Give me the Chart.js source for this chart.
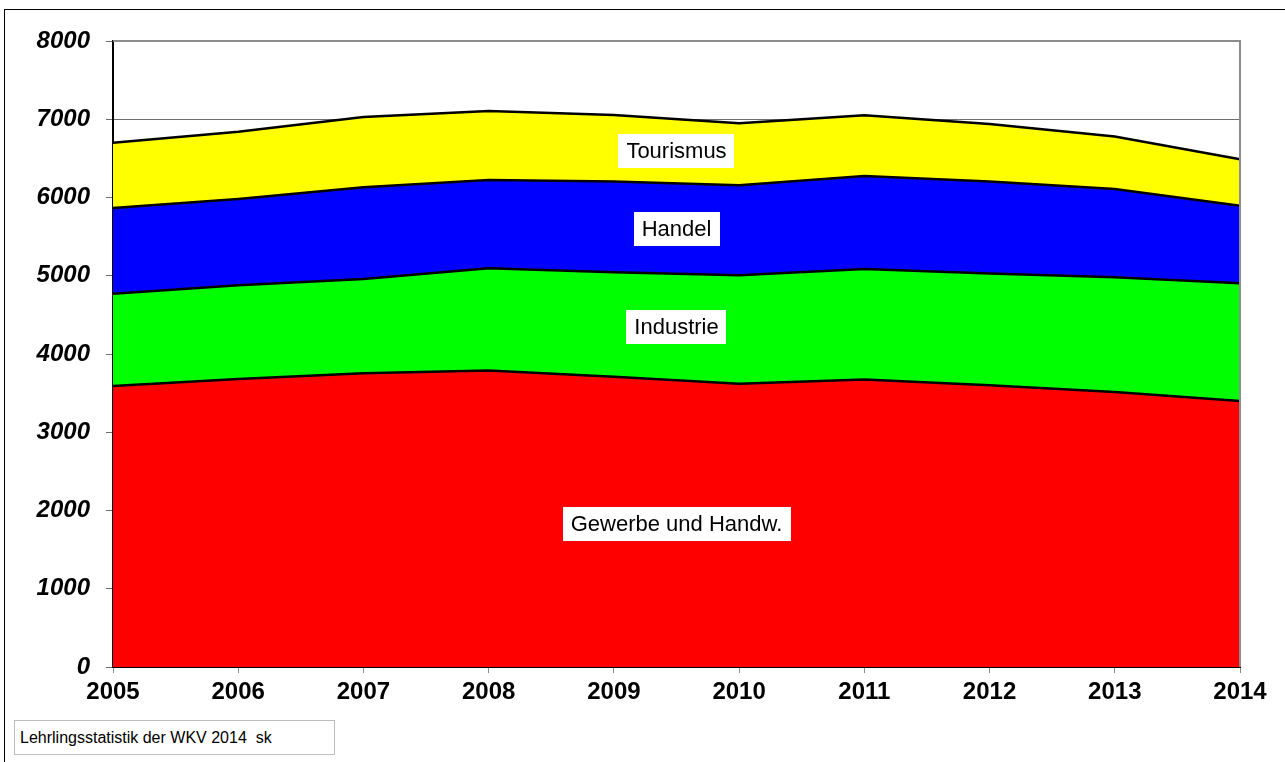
<!DOCTYPE html>
<html>
<head>
<meta charset="utf-8">
<script src="https://cdn.jsdelivr.net/npm/chart.js@4/dist/chart.umd.min.js"></script>
<style>
  html, body { margin: 0; padding: 0; background: #fff; }
  #wrap { position: relative; width: 1285px; height: 762px; overflow: hidden; }
  #frame { position: absolute; left: 4px; top: 9px; right: -5px; bottom: -5px; border-left: 1px solid #000; border-top: 1px solid #000; }
  #chart { position: absolute; left: 0; top: 0; }
  #source { position: absolute; left: 14px; top: 720px; width: 321px; height: 35px; border: 1px solid #bdbdbd; background: #fff;
    font: 16px "Liberation Sans", Arial, sans-serif; line-height: 33px; padding-left: 5px; box-sizing: border-box; color: #000; }
</style>
</head>
<body>
<div id="wrap">
  <div id="frame"></div>
  <canvas id="chart" width="1285" height="762"></canvas>
  <div id="source">Lehrlingsstatistik der WKV 2014&nbsp; sk</div>
</div>
<script>
const years = ["2005", "2006", "2007", "2008", "2009", "2010", "2011", "2012", "2013", "2014"];
const gewerbe = [3590, 3680, 3755, 3790, 3710, 3620, 3675, 3600, 3515, 3400];
const industrie = [1180, 1200, 1205, 1305, 1335, 1385, 1410, 1430, 1465, 1505];
const handel = [1095, 1100, 1170, 1130, 1160, 1150, 1190, 1175, 1130, 990];
const tourismus = [835, 860, 900, 880, 850, 795, 775, 735, 670, 595];
const yTicks = [0, 1000, 2000, 3000, 4000, 5000, 6000, 7000, 8000];

const series = [
  { label: "Gewerbe und Handw.", data: gewerbe, color: "#ff0000" },
  { label: "Industrie", data: industrie, color: "#00ff00" },
  { label: "Handel", data: handel, color: "#0000ff" },
  { label: "Tourismus", data: tourismus, color: "#ffff00" }
];

const fontFamily = '"Liberation Sans", Arial, sans-serif';

// white boxed labels in the middle of each band (between 2009 and 2010)
const bandLabels = {
  id: "bandLabels",
  afterDatasetsDraw(chart) {
    const { ctx, scales } = chart;
    const xPos = scales.x.getPixelForValue(4.5);
    let base = [0, 0];
    series.forEach((s) => {
      const top = [base[0] + s.data[4], base[1] + s.data[5]];
      const mid = (base[0] + base[1] + top[0] + top[1]) / 4;
      const yPos = scales.y.getPixelForValue(mid);
      ctx.save();
      ctx.font = "22px " + fontFamily;
      const w = ctx.measureText(s.label).width + 16;
      const h = 34;
      ctx.fillStyle = "#fff";
      ctx.fillRect(Math.round(xPos - w / 2), Math.round(yPos - h / 2), Math.round(w), h);
      ctx.fillStyle = "#000";
      ctx.textAlign = "center";
      ctx.textBaseline = "middle";
      ctx.fillText(s.label, xPos, yPos + 1);
      ctx.restore();
      base = top;
    });
  },
  afterDraw(chart) {
    const { ctx, chartArea } = chart;
    ctx.save();
    ctx.strokeStyle = "#8c8c8c";
    ctx.lineWidth = 2;
    ctx.beginPath();
    ctx.moveTo(chartArea.left, chartArea.top);
    ctx.lineTo(chartArea.right, chartArea.top);
    ctx.lineTo(chartArea.right, chartArea.bottom);
    ctx.stroke();
    ctx.restore();
  }
};

new Chart(document.getElementById("chart"), {
  type: "line",
  data: {
    labels: years,
    datasets: series.map((s, i) => ({
      label: s.label,
      data: s.data,
      backgroundColor: s.color,
      borderColor: "#000",
      borderWidth: 2.5,
      pointRadius: 0,
      tension: 0,
      fill: i === 0 ? "origin" : "-1"
    }))
  },
  options: {
    responsive: false,
    animation: false,
    layout: { padding: { top: 41, right: 45, bottom: 0, left: 0 } },
    plugins: {
      legend: { display: false },
      tooltip: { enabled: false }
    },
    scales: {
      x: {
        offset: false,
        afterFit: (scale) => { scale.height = 95; },
        grid: { drawOnChartArea: false, color: "#8c8c8c", tickLength: 6 },
        border: { color: "#000", width: 2 },
        ticks: {
          color: "#000",
          maxRotation: 0,
          autoSkip: false,
          padding: 5,
          font: { family: fontFamily, size: 24, weight: "bold" }
        }
      },
      y: {
        stacked: true,
        min: 0,
        max: 8000,
        afterFit: (scale) => { scale.width = 113; },
        afterBuildTicks: (scale) => { scale.ticks = yTicks.map((v) => ({ value: v })); },
        grid: { color: "#6e6e6e", tickLength: 7 },
        border: { color: "#000", width: 2 },
        ticks: {
          color: "#000",
          padding: 16,
          callback: (value) => String(value),
          font: { family: fontFamily, size: 24, weight: "bold", style: "italic" }
        }
      }
    }
  },
  plugins: [bandLabels]
});
</script>
</body>
</html>
